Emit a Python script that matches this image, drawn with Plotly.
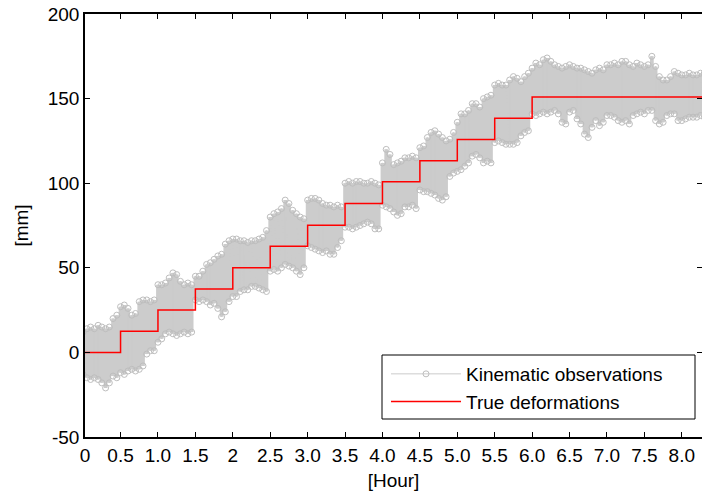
import plotly.graph_objects as go

# ---------------- data ----------------
# sampling grid (hours) used for the envelope of the kinematic observations
obs_time = [round(0.05 * i, 2) for i in range(167)]

# upper edge of the observation cloud [mm]
obs_upper = [
    12, 14, 15, 14, 16, 15, 14, 15, 20, 22,
    27, 28, 26, 22, 23, 30, 31, 31, 30, 31,
    40, 40, 41, 44, 47, 46, 42, 40, 41, 40,
    45, 45, 48, 52, 53, 55, 57, 58, 64, 66,
    67, 67, 66, 66, 65, 66, 66, 67, 68, 72,
    80, 82, 83, 85, 90, 88, 84, 82, 80, 79,
    90, 91, 91, 90, 88, 87, 87, 86, 87, 86,
    100, 101, 100, 101, 101, 100, 100, 101, 100, 99,
    112, 120, 117, 111, 112, 113, 115, 115, 116, 115,
    121, 122, 127, 130, 131, 129, 127, 125, 126, 130,
    136, 141, 141, 143, 147, 147, 145, 150, 151, 152,
    158, 159, 158, 158, 161, 163, 162, 160, 163, 165,
    168, 171, 170, 173, 174, 172, 170, 169, 168, 169,
    170, 169, 168, 168, 167, 166, 165, 167, 168, 167,
    170, 170, 171, 170, 172, 172, 170, 169, 171, 170,
    169, 170, 175, 169, 163, 161, 161, 163, 166, 165,
    164, 164, 165, 164, 164, 165, 165,
]

# lower edge of the observation cloud [mm]
obs_lower = [
    -13, -15, -16, -15, -16, -18, -21, -18, -14, -15,
    -12, -13, -11, -10, -11, -10, -8, -1, 1, 1,
    6, 8, 11, 12, 11, 10, 11, 12, 11, 12,
    31, 30, 31, 30, 28, 29, 26, 21, 24, 30,
    33, 33, 36, 37, 37, 39, 39, 38, 37, 36,
    48, 49, 48, 50, 52, 51, 50, 48, 46, 50,
    63, 62, 61, 60, 59, 60, 58, 58, 62, 66,
    74, 74, 73, 74, 75, 76, 77, 76, 73, 73,
    87, 86, 85, 83, 81, 82, 86, 86, 87, 85,
    96, 95, 95, 94, 93, 91, 90, 92, 104, 106,
    107, 108, 110, 112, 116, 117, 115, 112, 113, 112,
    124, 125, 124, 123, 123, 123, 124, 128, 130, 131,
    141, 140, 141, 142, 141, 142, 143, 141, 136, 135,
    142, 143, 138, 135, 129, 127, 133, 137, 134, 136,
    140, 140, 139, 137, 136, 137, 135, 140, 141, 142,
    141, 143, 143, 137, 135, 136, 140, 141, 141, 137,
    137, 138, 139, 139, 139, 140, 139,
]

# true deformation steps
step_time = [0, 0.5, 1.0, 1.5, 2.0, 2.5, 3.0, 3.5, 4.0, 4.5, 5.0, 5.5, 6.0, 8.3]
step_value = [0, 12.5, 25, 37.5, 50, 62.7, 75.2, 88, 100.8, 113.3, 125.8, 138.4, 151, 151]

x_tickvals = [0.025, 0.5, 1.0, 1.5, 2.0, 2.5, 3.0, 3.5, 4.0, 4.5, 5.0, 5.5, 6.0, 6.5, 7.0, 7.5, 8.0]
x_ticktext = ["0", "0.5", "1.0", "1.5", "2", "2.5", "3.0", "3.5", "4.0", "4.5",
              "5.0", "5.5", "6.0", "6.5", "7.0", "7.5", "8.0"]
y_tickvals = [-50, 0, 50, 100, 150, 200]
y_ticktext = ["-50", "0", "50", "100", "150", "200"]

# ---------------- figure ----------------
GREY = "rgb(204,204,204)"
GREY_EDGE = "rgb(190,190,190)"
FONT = "Liberation Sans, Arial, sans-serif"

fig = go.Figure()

# observation points (zig-zag between edges)
zx, zy = [], []
for t, lo, up in zip(obs_time, obs_lower, obs_upper):
    zx += [t, t]
    zy += [lo, up]

# solid cloud
fig.add_trace(go.Scatter(x=obs_time, y=obs_lower, mode="lines",
                         line=dict(width=0, color=GREY, shape="hvh"),
                         showlegend=False, hoverinfo="skip"))
fig.add_trace(go.Scatter(x=obs_time, y=obs_upper, mode="lines", fill="tonexty",
                         fillcolor=GREY, line=dict(width=0, color=GREY, shape="hvh"),
                         showlegend=False, hoverinfo="skip"))

fig.add_trace(go.Scatter(
    x=zx, y=zy, mode="lines+markers", name="Kinematic observations",
    line=dict(color=GREY, width=1),
    marker=dict(symbol="circle-open", size=6, color=GREY_EDGE, line=dict(width=1)),
))

fig.add_trace(go.Scatter(
    x=step_time, y=step_value, mode="lines", name="True deformations",
    line=dict(color="rgb(255,0,0)", width=1.5, shape="hv"),
))

# invisible trace carrying the right-hand tick marks
fig.add_trace(go.Scatter(x=[None], y=[None], yaxis="y2", showlegend=False))

L, R, T, B = 85, 0, 14, 60
W, H = 702, 497
pw, ph = W - L - R, H - T - B

def px_x(px):
    return (px - L) / pw

def px_y(py):
    return (H - B - py) / ph

fig.update_layout(
    width=W, height=H,
    margin=dict(l=L, r=R, t=T, b=B),
    paper_bgcolor="white", plot_bgcolor="white",
    font=dict(family=FONT, size=19, color="black"),
    xaxis=dict(
        range=[0.025, 8.27], tickvals=x_tickvals, ticktext=x_ticktext,
        ticks="inside", ticklen=5, tickwidth=1, tickcolor="black",
        showline=True, linecolor="black", linewidth=1.5, mirror="ticks",
        showgrid=False, zeroline=False,
        title=dict(text="[Hour]", standoff=9, font=dict(size=19)),
        tickfont=dict(size=19),
    ),
    yaxis=dict(
        range=[-50, 200], tickvals=y_tickvals, ticktext=y_ticktext,
        ticks="inside", ticklen=5, tickwidth=1, tickcolor="black",
        showline=True, linecolor="black", linewidth=1.5, mirror=False,
        showgrid=False, zeroline=False,
        title=dict(text="[mm]", standoff=14, font=dict(size=19)),
        tickfont=dict(size=19),
    ),
    yaxis2=dict(
        range=[-50, 200], tickvals=y_tickvals, overlaying="y", side="right",
        ticks="inside", ticklen=5, tickwidth=1, tickcolor="black",
        showticklabels=False, showline=False, showgrid=False, zeroline=False,
    ),
    legend=dict(
        x=px_x(386), y=px_y(355), xanchor="left", yanchor="top",
        bgcolor="rgba(0,0,0,0)", borderwidth=0, traceorder="normal",
        font=dict(size=19), itemwidth=70, tracegroupgap=0,
    ),
    shapes=[dict(type="rect", xref="paper", yref="paper",
                 x0=px_x(382), x1=px_x(695), y0=px_y(419), y1=px_y(355),
                 line=dict(color="black", width=1), fillcolor="white",
                 layer="above")],
)

fig.write_html("out.html")
